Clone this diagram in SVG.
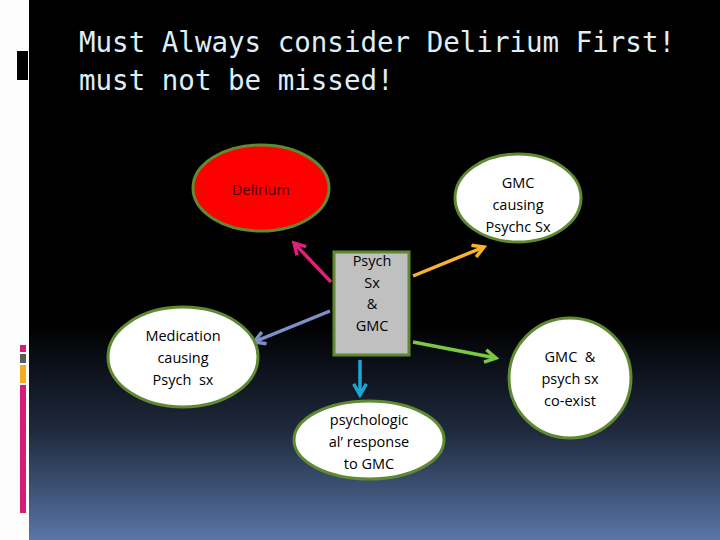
<svg xmlns="http://www.w3.org/2000/svg" width="720" height="540" viewBox="0 0 720 540">
<defs>
<linearGradient id="bg" x1="0" y1="0" x2="0" y2="1">
<stop offset="0" stop-color="#000000"/>
<stop offset="0.6" stop-color="#000000"/>
<stop offset="0.8" stop-color="#1f2a3e"/>
<stop offset="1" stop-color="#5a75a8"/>
</linearGradient>
<marker id="mPink" viewBox="0 0 10 10" refX="8" refY="5" markerWidth="4.5" markerHeight="4.5" orient="auto" markerUnits="strokeWidth"><path d="M1,1 L8,5 L1,9" fill="none" stroke="#e0207a" stroke-width="2.2"/></marker>
<marker id="mOrange" viewBox="0 0 10 10" refX="8" refY="5" markerWidth="4.5" markerHeight="4.5" orient="auto" markerUnits="strokeWidth"><path d="M1,1 L8,5 L1,9" fill="none" stroke="#f7b42c" stroke-width="2.2"/></marker>
<marker id="mBlue" viewBox="0 0 10 10" refX="8" refY="5" markerWidth="4.5" markerHeight="4.5" orient="auto" markerUnits="strokeWidth"><path d="M1,1 L8,5 L1,9" fill="none" stroke="#7f8fc8" stroke-width="2.2"/></marker>
<marker id="mGreen" viewBox="0 0 10 10" refX="8" refY="5" markerWidth="4.5" markerHeight="4.5" orient="auto" markerUnits="strokeWidth"><path d="M1,1 L8,5 L1,9" fill="none" stroke="#7ac943" stroke-width="2.2"/></marker>
<marker id="mCyan" viewBox="0 0 10 10" refX="8" refY="5" markerWidth="4.5" markerHeight="4.5" orient="auto" markerUnits="strokeWidth"><path d="M1,1 L8,5 L1,9" fill="none" stroke="#1ea5d8" stroke-width="2.2"/></marker>
</defs>
<style>
.node{stroke:#5f8a32;stroke-width:3}
.lbl{font-family:"Open Sans","Noto Sans","Liberation Sans",sans-serif;font-size:14.5px;fill:#000;text-anchor:middle;dominant-baseline:central}
.title{font-family:"DejaVu Sans Mono","Liberation Mono",monospace;font-size:27.5px;fill:#dfeef6}
.conn{fill:none;stroke-width:3.5}
</style>
<rect x="0" y="0" width="720" height="540" fill="#fdfdfd"/>
<rect x="29" y="0" width="691" height="540" fill="url(#bg)"/>
<rect x="17" y="51" width="11" height="29" fill="#000"/>
<rect x="20" y="345" width="6" height="7" fill="#d81b78"/>
<rect x="20" y="354" width="6" height="9" fill="#5a5a5a"/>
<rect x="20" y="365" width="6" height="18" fill="#f3ae1c"/>
<rect x="20" y="385" width="6" height="128" fill="#d81b78"/>
<g id="title">
<text class="title" x="79" y="52">Must Always consider Delirium First!</text>
<text class="title" x="79" y="90">must not be missed!</text>
</g>
<g id="connectors">
<line class="conn" x1="331" y1="282" x2="294" y2="243" stroke="#e0207a" marker-end="url(#mPink)"/>
<line class="conn" x1="413" y1="276" x2="484" y2="247" stroke="#f7b42c" marker-end="url(#mOrange)"/>
<line class="conn" x1="330" y1="311" x2="254" y2="342" stroke="#7f8fc8" marker-end="url(#mBlue)"/>
<line class="conn" x1="413" y1="342" x2="496" y2="358" stroke="#7ac943" marker-end="url(#mGreen)"/>
<line class="conn" x1="360" y1="360" x2="360" y2="395" stroke="#1ea5d8" marker-end="url(#mCyan)"/>
</g>
<g id="delirium">
<ellipse class="node" cx="261" cy="188" rx="68" ry="43" fill="#ff0000"/>
<text class="lbl" x="261" y="189" style="fill:#4a0000">Delirium</text>
</g>
<g id="gmc-causing">
<ellipse class="node" cx="518" cy="198" rx="63" ry="44" fill="#fff"/>
<text class="lbl" x="518" y="182">GMC</text>
<text class="lbl" x="518" y="204">causing</text>
<text class="lbl" x="518" y="226">Psychc Sx</text>
</g>
<g id="psych-gmc">
<rect class="node" x="334" y="252" width="75" height="103" fill="#c0c0c0"/>
<text class="lbl" x="372" y="260">Psych</text>
<text class="lbl" x="372" y="282">Sx</text>
<text class="lbl" x="372" y="303">&amp;</text>
<text class="lbl" x="372" y="325">GMC</text>
</g>
<g id="medication">
<ellipse class="node" cx="183" cy="357" rx="75" ry="50" fill="#fff"/>
<text class="lbl" x="183" y="335">Medication</text>
<text class="lbl" x="183" y="357">causing</text>
<text class="lbl" x="183" y="379">Psych&#160; sx</text>
</g>
<g id="psychological">
<ellipse class="node" cx="369" cy="440" rx="75" ry="39" fill="#fff"/>
<text class="lbl" x="369" y="419">psychologic</text>
<text class="lbl" x="369" y="441">al’ response</text>
<text class="lbl" x="369" y="463">to GMC</text>
</g>
<g id="coexist">
<ellipse class="node" cx="570" cy="378" rx="61" ry="60" fill="#fff"/>
<text class="lbl" x="570" y="356">GMC&#160; &amp;</text>
<text class="lbl" x="570" y="378">psych sx</text>
<text class="lbl" x="570" y="400">co-exist</text>
</g>
</svg>
